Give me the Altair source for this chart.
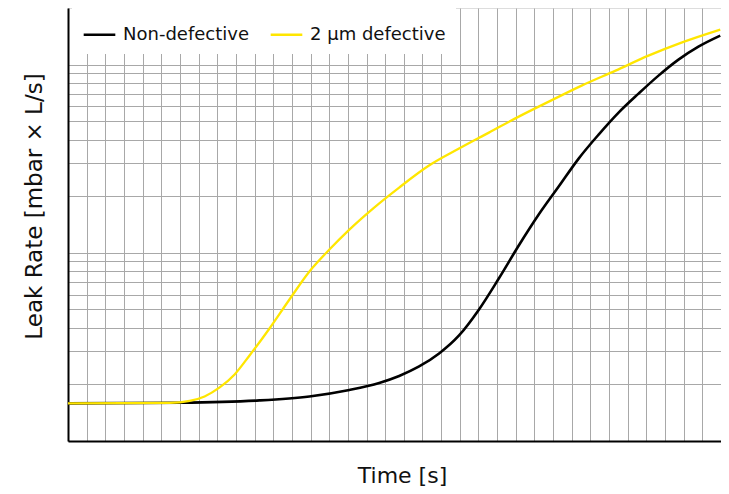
import altair as alt
import pandas as pd

# Time [s] and leak rate [mbar x L/s]
x_nondef = [0, 5.99, 10.26, 12.94, 15.08, 16.68, 17.75, 18.82, 19.89, 20.96, 22.03,
            23.09, 24.16, 25.23, 26.30, 27.37, 28.44, 29.51, 30.58, 31.65, 32.72, 33.79, 34.96]
y_nondef = [1.585e-9, 1.598e-9, 1.643e-9, 1.725e-9, 1.868e-9, 2.035e-9, 2.217e-9, 2.489e-9,
            2.918e-9, 3.638e-9, 5.001e-9, 7.302e-9, 1.093e-8, 1.597e-8, 2.249e-8, 3.168e-8,
            4.248e-8, 5.561e-8, 7.015e-8, 8.743e-8, 1.063e-7, 1.246e-7, 1.426e-7]

x_def = [0, 5.45, 6.52, 7.32, 8.13, 8.93, 9.73, 10.80, 11.87, 12.94, 14.01, 15.08, 16.41,
         17.75, 19.35, 20.96, 22.56, 24.16, 25.77, 27.53, 29.35, 31.11, 32.88, 34.96]
y_def = [1.585e-9, 1.594e-9, 1.633e-9, 1.725e-9, 1.926e-9, 2.258e-9, 2.848e-9, 3.963e-9,
         5.649e-9, 7.956e-9, 1.041e-8, 1.329e-8, 1.740e-8, 2.222e-8, 2.908e-8, 3.580e-8,
         4.353e-8, 5.295e-8, 6.360e-8, 7.736e-8, 9.293e-8, 1.116e-7, 1.309e-7, 1.535e-7]

series_names = ["Non-defective", "2 µm defective"]
series_colors = ["#000000", "#FFE600"]

x_grid = list(range(0, 36))
y_grid = [m * 10.0 ** e for e in (-9, -8) for m in range(1, 10)] + [1e-7]

df_nd = pd.DataFrame({"t": x_nondef, "v": y_nondef, "series": series_names[0]})
df_d = pd.DataFrame({"t": x_def, "v": y_def, "series": series_names[1]})

FONT = "DejaVu Sans"

x_enc = alt.X("t:Q", scale=alt.Scale(domain=[0, 35], nice=False, zero=False),
              axis=alt.Axis(values=x_grid, labels=False, ticks=False, grid=True,
                            gridColor="#a8a8a8", gridWidth=1,
                            domainColor="black", domainWidth=2,
                            title="Time [s]", titleFont=FONT, titleFontSize=22,
                            titleFontWeight="normal", titleColor="#111111",
                            titleBaseline="alphabetic", titleY=41, titleX=334))
y_enc = alt.Y("v:Q", scale=alt.Scale(type="log", domain=[1e-9, 2e-7], nice=False),
              axis=alt.Axis(values=y_grid, labels=False, ticks=False, grid=True,
                            gridColor="#a8a8a8", gridWidth=1,
                            domainColor="black", domainWidth=2,
                            title="Leak Rate [mbar × L/s]", titleFont=FONT, titleFontSize=23,
                            titleFontWeight="normal", titleColor="#111111",
                            titleAngle=-90, titleBaseline="alphabetic",
                            titleX=-27, titleY=198))
color_enc = alt.Color("series:N",
                      scale=alt.Scale(domain=series_names, range=series_colors),
                      legend=alt.Legend(title=None, orient="none", legendX=4, legendY=-1,
                                        direction="horizontal", fillColor="white",
                                        padding=10, symbolType="stroke",
                                        symbolStrokeWidth=2.5, symbolSize=1000,
                                        labelFont=FONT, labelFontSize=18,
                                        labelColor="#111111", labelOffset=6,
                                        columnPadding=16))

line_nd = alt.Chart(df_nd).mark_line(strokeWidth=2.6, interpolate="monotone").encode(
    x=x_enc, y=y_enc, color=color_enc)
line_d = alt.Chart(df_d).mark_line(strokeWidth=2.3, interpolate="monotone").encode(
    x=x_enc, y=y_enc, color=color_enc)

chart = alt.layer(line_nd, line_d).properties(
    width=653, height=433,
    padding={"left": 60, "top": 0, "right": 0, "bottom": 45},
    autosize=alt.AutoSizeParams(type="none"),
).configure_view(stroke=None).configure(background="white")

chart.save("out.html", embed_options={"renderer": "svg", "actions": False})
